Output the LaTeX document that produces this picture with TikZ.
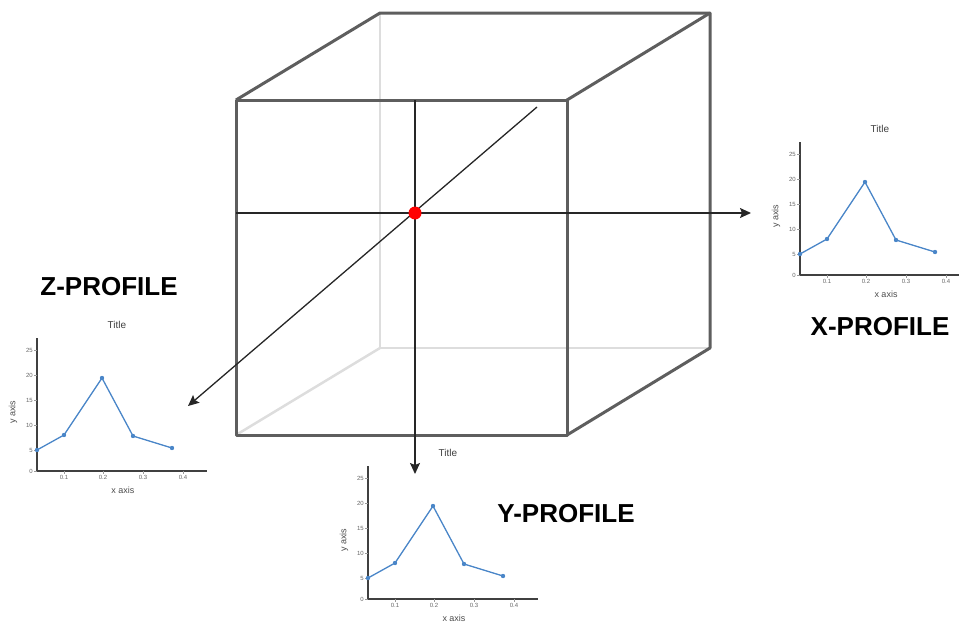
\documentclass[tikz,border=0pt]{standalone}
\usepackage{fontspec}
\setmainfont{Liberation Sans}
\usetikzlibrary{arrows.meta}
\definecolor{edgegray}{HTML}{5E5E5E}
\definecolor{hiddengray}{HTML}{DDDDDD}
\definecolor{plotblue}{HTML}{4A86C8}
\tikzset{
  cubeedge/.style={draw=edgegray, line width=3pt, line join=round},
  hiddenedge/.style={draw=hiddengray, line width=2.5pt},
  probe/.style={draw=black!85, line width=1.3pt, -{Stealth[length=11pt,width=10pt,inset=2pt]}},
  profilelabel/.style={font=\bfseries\fontsize{26}{28}\selectfont, inner sep=0pt},
  ticklabel/.style={font=\fontsize{6}{7}\selectfont, text=black!60, inner sep=1pt},
  axislabel/.style={font=\fontsize{9}{10}\selectfont, text=black!70, inner sep=0pt},
}
\begin{document}
\begin{tikzpicture}[x=1pt,y=-1pt]
\useasboundingbox (0,0) rectangle (959,624);

% hidden edges of the cube
\draw [hiddenedge] (380,13) -- (380,348) -- (710,348);
\draw [hiddenedge] (236,435) -- (380,348);
% visible edges
\draw [cubeedge] (236,100) rectangle (567,435);
\draw [cubeedge] (236,100) -- (380,13) -- (710,13) -- (710,348) -- (567,435);
\draw [cubeedge] (567,100) -- (710,13);

\coordinate (center) at (415,213);
\coordinate (xstart) at (236,213);
\coordinate (xend) at (751,213);
\coordinate (ystart) at (415,100);
\coordinate (yend) at (415,474);
\coordinate (zstart) at (537,107);
\coordinate (zend) at (188,406);

\draw [probe] (xstart) -- (xend);
\draw [probe] (ystart) -- (yend);
\draw [probe] (zstart) -- (zend);
\node [circle, fill=red, inner sep=0pt, minimum size=13pt] (origin) at (center) {};

% the three profile charts
\foreach \ox/\oy/\pname in {37/471/zplot, 800/275/xplot, 368/599/yplot}{
\begin{scope}[shift={(\ox,\oy)}]
  \draw [line width=1.6pt, draw=black!75] (0,-133) -- (0,0) -- (170,0);
  \foreach \v/\h in {0/0,5/21,10/46,15/71,20/96,25/121}{
    \draw [draw=black!40, line width=0.4pt] (0,-\h) -- (-3,-\h) node [ticklabel, left] (\pname-y\v) {\v};
  }
  \foreach \t/\w in {1/27,2/66,3/106,4/146}{
    \draw [draw=black!40, line width=0.4pt] (\w,0) -- (\w,3) node [ticklabel, below] (\pname-x\t) {0.\t};
  }
  \draw [plotblue, line width=1.3pt, line join=round] (0,-21) -- (27,-36) -- (65,-93) -- (96,-35) -- (135,-23);
  \foreach \px/\py in {0/21,27/36,65/93,96/35,135/23}{
    \fill [plotblue] (\px,-\py) circle (2.2pt);
  }
  \node [font=\fontsize{10}{12}\selectfont, text=black!75] (\pname-title) at (80,-146) {Title};
  \node [axislabel] (\pname-xlabel) at (86,19) {x axis};
  \node [axislabel, rotate=90] (\pname-ylabel) at (-24,-59) {y axis};
\end{scope}
}

\node [profilelabel] (zlabel) at (109,287) {Z-PROFILE};
\node [profilelabel] (xlabel) at (880,327) {X-PROFILE};
\node [profilelabel] (ylabel) at (566,514) {Y-PROFILE};
\end{tikzpicture}
\end{document}
